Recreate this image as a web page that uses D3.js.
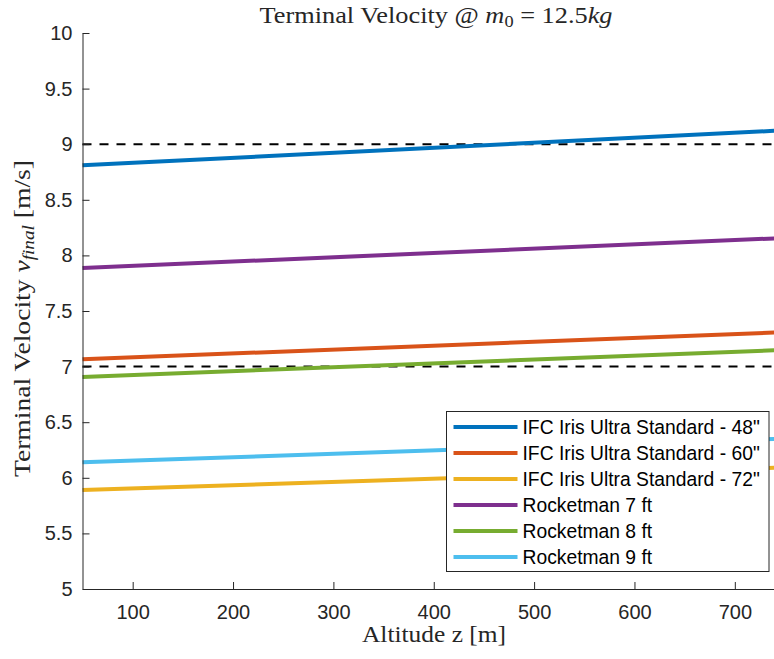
<!DOCTYPE html>
<html lang="en">
  <head>
    <meta charset="utf-8"/>
    <title>Terminal Velocity</title>
    <script src="https://cdn.jsdelivr.net/npm/d3@7"></script>
    <style>
      body { margin: 0; background: #fff; }
      .tick text { font-family: "Liberation Sans", Arial, sans-serif; font-size: 20px; fill: #262626; }
      .latex { font-family: "Liberation Serif", "Times New Roman", serif; fill: #262626; }
    </style>
  </head>
  <body>
    <div id="chart"></div>
    <script>

      // altitude samples (m)
      var altitudes = [50, 750];

      // terminal velocity per parachute (m/s)
      var vIfc48 = [8.81, 9.125];
      var vIfc60 = [7.066, 7.31];
      var vIfc72 = [5.89, 6.093];
      var vRm7 = [7.887, 8.157];
      var vRm8 = [6.907, 7.15];
      var vRm9 = [6.14, 6.353];

      var seriesNames = ['IFC Iris Ultra Standard - 48"', 'IFC Iris Ultra Standard - 60"', 'IFC Iris Ultra Standard - 72"',
                         "Rocketman 7 ft", "Rocketman 8 ft", "Rocketman 9 ft"];
      var seriesValues = [vIfc48, vIfc60, vIfc72, vRm7, vRm8, vRm9];
      var seriesColours = ["#0072BD", "#D95319", "#EDB120", "#7E2F8E", "#77AC30", "#4DBEEE"];

      // limit lines
      var limits = [9, 7];

      var xTicks = [100, 200, 300, 400, 500, 600, 700];
      var yTicks = [5, 5.5, 6, 6.5, 7, 7.5, 8, 8.5, 9, 9.5, 10];

      var w = 774, h = 659;

      var svg = d3.select("#chart").append("svg")
        .attr("width", w)
        .attr("height", h);

      // axes area runs past the right edge of the picture
      var x = d3.scaleLinear().domain([50, 750]).range([82.5, 785]);
      var y = d3.scaleLinear().domain([5, 10]).range([589, 33]);

      var line = d3.line()
        .x(function(d) { return x(d[0]); })
        .y(function(d) { return y(d[1]); });

      // dashed limit lines
      svg.selectAll(".limit")
        .data(limits)
        .enter()
        .append("line")
        .attr("class", "limit")
        .attr("x1", x(50))
        .attr("x2", x(750))
        .attr("y1", function(d) { return y(d); })
        .attr("y2", function(d) { return y(d); })
        .attr("stroke", "#000")
        .attr("stroke-width", 2)
        .attr("stroke-dasharray", "9,8");

      // series lines
      svg.selectAll(".series")
        .data(seriesValues)
        .enter()
        .append("path")
        .attr("class", "series")
        .attr("d", function(vals) {
          return line(altitudes.map(function(a, i) { return [a, vals[i]]; }));
        })
        .attr("fill", "none")
        .attr("stroke", function(d, i) { return seriesColours[i]; })
        .attr("stroke-width", 4);

      // axes with ticks pointing inward
      var xAxis = svg.append("g")
        .attr("transform", "translate(0," + y(5) + ")")
        .call(d3.axisBottom(x).tickValues(xTicks).tickSizeInner(-7).tickSizeOuter(0).tickPadding(16));
      var yAxis = svg.append("g")
        .attr("transform", "translate(" + x(50) + ",0)")
        .call(d3.axisLeft(y).tickValues(yTicks).tickSizeInner(-7).tickSizeOuter(0).tickPadding(10)
          .tickFormat(d3.format("")));
      [xAxis, yAxis].forEach(function(a) {
        a.select(".domain").attr("stroke", "#262626").attr("stroke-width", 1);
        a.selectAll(".tick line").attr("stroke", "#262626");
      });

      // title (glyphs stretched a little to the width of the LaTeX font)
      var title = svg.append("text")
        .attr("class", "latex")
        .attr("x", 436)
        .attr("y", 23)
        .attr("text-anchor", "middle")
        .attr("textLength", 353)
        .attr("lengthAdjust", "spacingAndGlyphs")
        .style("font-size", "23px");
      title.append("tspan").text("Terminal Velocity @ ");
      title.append("tspan").style("font-style", "italic").text("m");
      title.append("tspan").attr("dy", 4).style("font-size", "16px").text("0");
      title.append("tspan").attr("dy", -4).text(" = 12.5");
      title.append("tspan").style("font-style", "italic").text("kg");

      // x label
      svg.append("text")
        .attr("class", "latex")
        .attr("x", 434)
        .attr("y", 641.5)
        .attr("text-anchor", "middle")
        .attr("textLength", 144)
        .attr("lengthAdjust", "spacingAndGlyphs")
        .style("font-size", "23px")
        .text("Altitude z [m]");

      // y label
      var ylab = svg.append("text")
        .attr("class", "latex")
        .attr("transform", "translate(30,318.5) rotate(-90)")
        .attr("text-anchor", "middle")
        .attr("textLength", 317)
        .attr("lengthAdjust", "spacingAndGlyphs")
        .style("font-size", "23px");
      ylab.append("tspan").text("Terminal Velocity ");
      ylab.append("tspan").style("font-style", "italic").text("v");
      ylab.append("tspan").attr("dy", 4).style("font-style", "italic").style("font-size", "16px").text("final");
      ylab.append("tspan").attr("dy", -4).text(" [m/s]");

      // legend
      var legend = svg.append("g").attr("transform", "translate(446.5,411.5)");
      legend.append("rect")
        .attr("width", 322.5)
        .attr("height", 160)
        .attr("fill", "#fff")
        .attr("stroke", "#262626")
        .attr("stroke-width", 1);
      var rows = legend.selectAll(".row")
        .data(seriesNames)
        .enter()
        .append("g")
        .attr("class", "row")
        .attr("transform", function(d, i) { return "translate(0," + (15.5 + i * 26) + ")"; });
      rows.append("line")
        .attr("x1", 7)
        .attr("x2", 71)
        .attr("stroke", function(d, i) { return seriesColours[i]; })
        .attr("stroke-width", 4);
      rows.append("text")
        .attr("x", 76)
        .attr("y", 7)
        .style("font-family", "'Liberation Sans', Arial, sans-serif")
        .style("font-size", "19.3px")
        .attr("fill", "#000")
        .text(function(d) { return d; });
    </script>
  </body>
</html>
